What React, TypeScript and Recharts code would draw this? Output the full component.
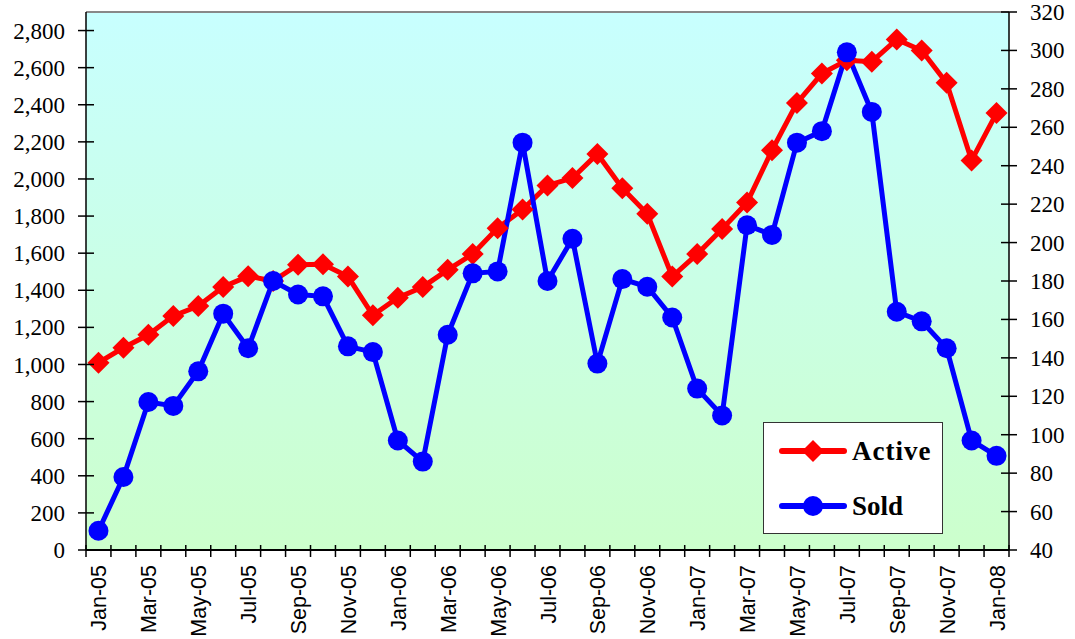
import React from "react";
import {
    LineChart,
    Line,
    XAxis,
    YAxis,
    CartesianGrid,
    ReferenceLine,
    Legend,
} from "recharts";

const months = [
    "Jan-05", "Feb-05", "Mar-05", "Apr-05", "May-05", "Jun-05", "Jul-05", "Aug-05", "Sep-05", "Oct-05", "Nov-05", "Dec-05",
    "Jan-06", "Feb-06", "Mar-06", "Apr-06", "May-06", "Jun-06", "Jul-06", "Aug-06", "Sep-06", "Oct-06", "Nov-06", "Dec-06",
    "Jan-07", "Feb-07", "Mar-07", "Apr-07", "May-07", "Jun-07", "Jul-07", "Aug-07", "Sep-07", "Oct-07", "Nov-07", "Dec-07",
    "Jan-08",
];

const active = [
    1010, 1090, 1160, 1262, 1315, 1418, 1476, 1450, 1538, 1540, 1474, 1265,
    1360, 1418, 1510, 1595, 1735, 1835, 1965, 2005, 2135, 1950, 1812, 1474,
    1595, 1730, 1873, 2155, 2410, 2568, 2640, 2632, 2752, 2692, 2518, 2100,
    2355,
];

const sold = [
    50, 78, 117, 115, 133, 163, 145, 180, 173, 172, 146, 143,
    97, 86, 152, 184, 185, 252, 180, 202, 137, 181, 177, 161,
    124, 110, 209, 204, 252, 258, 299, 268, 164, 159, 145, 97,
    89,
];

const leftTicks = [0, 200, 400, 600, 800, 1000, 1200, 1400, 1600, 1800, 2000, 2200, 2400, 2600, 2800];
const rightTicks = [40, 60, 80, 100, 120, 140, 160, 180, 200, 220, 240, 260, 280, 300, 320];

const data = months.map((m, i) => ({ month: m, Active: active[i], Sold: sold[i] }));

const PLOT_W = 923;
const HALF = PLOT_W / months.length / 2;
const numFont = "'Liberation Serif', 'Times New Roman', serif";

const XTick = (props: any) => {
    const { x, y, payload, index } = props;
    return (
        <g>
            <line x1={x - HALF} x2={x - HALF} y1={y - 5} y2={y + 7} stroke="#000" strokeWidth={1.5} />
            {index === months.length - 1 && (
                <line x1={x + HALF} x2={x + HALF} y1={y - 5} y2={y + 7} stroke="#000" strokeWidth={1.5} />
            )}
            {index % 2 === 0 && (
                <text
                    transform={`translate(${x + 8},${y + 15}) rotate(-90)`}
                    textAnchor="end"
                    fontFamily="'Liberation Sans', Arial, sans-serif"
                    fontSize={21.5}
                    fill="#000"
                >
                    {payload.value}
                </text>
            )}
        </g>
    );
};

const LeftTick = (props: any) => {
    const { x, y, payload } = props;
    return (
        <g>
            <line x1={x - 8} x2={x + 8} y1={y} y2={y} stroke="#000" strokeWidth={1.5} />
            <text x={x - 21} y={y} dy="0.35em" textAnchor="end" fontFamily={numFont} fontSize={23} fill="#000">
                {payload.value.toLocaleString("en-US")}
            </text>
        </g>
    );
};

const RightTick = (props: any) => {
    const { x, y, payload } = props;
    return (
        <g>
            <line x1={x - 8} x2={x + 8} y1={y} y2={y} stroke="#000" strokeWidth={1.5} />
            <text x={x + 21} y={y} dy="0.35em" textAnchor="start" fontFamily={numFont} fontSize={23} fill="#000">
                {payload.value}
            </text>
        </g>
    );
};

const Diamond = (props: any) => {
    const { cx, cy, index } = props;
    if (cx == null || cy == null) return <g key={index} />;
    return (
        <path
            key={index}
            d={`M${cx},${cy - 11} L${cx + 11},${cy} L${cx},${cy + 11} L${cx - 11},${cy} Z`}
            fill="#ff0000"
        />
    );
};

const LegendBox = () => (
    <div
        style={{
            width: 180,
            height: 112,
            boxSizing: "border-box",
            background: "#fff",
            border: "1.5px solid #333",
            position: "relative",
        }}
    >
        <svg width={180} height={112} style={{ position: "absolute", left: 0, top: 0 }}>
            <line x1={18} x2={80} y1={28} y2={28} stroke="#ff0000" strokeWidth={6} strokeLinecap="round" />
            <path d="M49,17 L60,28 L49,39 L38,28 Z" fill="#ff0000" />
            <text x={88} y={28} dy="0.35em" fontFamily={numFont} fontWeight="bold" fontSize={27} letterSpacing={1}>
                Active
            </text>
            <line x1={18} x2={80} y1={83} y2={83} stroke="#0000ff" strokeWidth={6} strokeLinecap="round" />
            <circle cx={49} cy={83} r={10} fill="#0000ff" />
            <text x={88} y={83} dy="0.35em" fontFamily={numFont} fontWeight="bold" fontSize={27}>
                Sold
            </text>
        </svg>
    </div>
);

export default function App() {
    return (
        <div style={{ width: 1075, height: 639, background: "#fff" }}>
            <style>{`body{margin:0}`}</style>
            <LineChart
                width={1075}
                height={639}
                data={data}
                margin={{ top: 12, right: 0, bottom: 0, left: 0 }}
            >
                <defs>
                    <linearGradient id="bg" x1="0" y1="0" x2="0" y2="1">
                        <stop offset="0%" stopColor="#c8ffff" />
                        <stop offset="100%" stopColor="#ccffcc" />
                    </linearGradient>
                </defs>
                <CartesianGrid horizontal={false} vertical={false} fill="url(#bg)" />
                <XAxis
                    dataKey="month"
                    interval={0}
                    height={89}
                    padding={{ left: HALF, right: HALF }}
                    tickSize={0}
                    tickMargin={0}
                    tickLine={false}
                    tick={<XTick />}
                    axisLine={{ stroke: "#000", strokeWidth: 2 }}
                />
                <YAxis
                    yAxisId="left"
                    domain={[0, 2900]}
                    ticks={leftTicks}
                    width={86}
                    tickSize={0}
                    tickMargin={0}
                    tickLine={false}
                    tick={<LeftTick />}
                    axisLine={{ stroke: "#000", strokeWidth: 1.5 }}
                />
                <YAxis
                    yAxisId="right"
                    orientation="right"
                    domain={[40, 320]}
                    ticks={rightTicks}
                    width={66}
                    tickSize={0}
                    tickMargin={0}
                    tickLine={false}
                    tick={<RightTick />}
                    axisLine={{ stroke: "#000", strokeWidth: 1.5 }}
                />
                <ReferenceLine yAxisId="left" y={2900} stroke="#888" strokeWidth={2} />
                <Legend
                    layout="horizontal"
                    verticalAlign="middle"
                    align="center"
                    content={<LegendBox />}
                    wrapperStyle={{ position: "absolute", left: 763, top: 422, width: 180, height: 112 }}
                />
                <Line
                    yAxisId="left"
                    dataKey="Active"
                    stroke="#ff0000"
                    strokeWidth={5}
                    dot={<Diamond />}
                    activeDot={false}
                    isAnimationActive={false}
                />
                <Line
                    yAxisId="right"
                    dataKey="Sold"
                    stroke="#0000ff"
                    strokeWidth={5}
                    dot={{ r: 10, fill: "#0000ff", stroke: "none" }}
                    activeDot={false}
                    isAnimationActive={false}
                />
            </LineChart>
        </div>
    );
}
